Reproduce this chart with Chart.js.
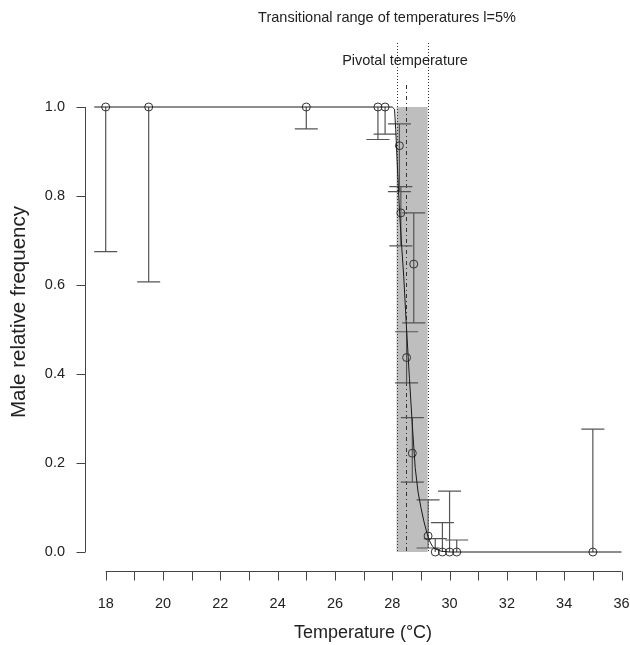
<!DOCTYPE html>
<html>
<head>
<meta charset="utf-8">
<script src="https://cdn.jsdelivr.net/npm/chart.js@4/dist/chart.umd.min.js"></script>
<style>
  html, body { margin: 0; padding: 0; background: #fff; }
  #wrap { width: 630px; height: 645px; }
</style>
</head>
<body>
<div id="wrap"><canvas id="tsdChart" width="630" height="645"></canvas></div>
<script>
// Observed incubation temperatures and male frequencies with their confidence limits
const obsTemp  = [18, 19.5, 25, 27.5, 27.75, 28.25, 28.3, 28.5, 28.7, 28.75, 29.25, 29.5, 29.75, 30, 30.25, 35];
const obsFreq  = [1, 1, 1, 1, 1, 0.913, 0.762, 0.437, 0.222, 0.647, 0.036, 0, 0, 0, 0, 0];
const obsLower = [0.675, 0.607, 0.951, 0.927, 0.939, 0.81, 0.688, 0.38, 0.157, 0.515, 0.009, 0, 0, 0, 0, 0];
const obsUpper = [1, 1, 1, 1, 1, 0.962, 0.821, 0.495, 0.302, 0.762, 0.117, 0.03, 0.066, 0.137, 0.027, 0.276];

// Fitted sex-ratio curve
const curveTemp = [17.6, 28.0, 28.08, 28.12, 28.17, 28.25, 28.33, 28.4, 28.5, 28.6, 28.7, 28.8, 28.9, 29.0, 29.1, 29.2, 29.3, 29.4, 29.5, 29.7, 30, 36];
const curveFreq = [1, 1, 0.995, 0.95, 0.88, 0.77, 0.686, 0.62, 0.5, 0.39, 0.285, 0.19, 0.135, 0.1, 0.07, 0.045, 0.025, 0.013, 0.007, 0.002, 0, 0];

// Pivotal temperature and transitional range (l = 5%)
const pivotTemp = 28.49;
const transRange = [28.15, 29.235];

const xTicks = [18, 19, 20, 21, 22, 23, 24, 25, 26, 27, 28, 29, 30, 31, 32, 33, 34, 35, 36];
const xTickLabels = ['18', '', '20', '', '22', '', '24', '', '26', '', '28', '', '30', '', '32', '', '34', '', '36'];
const yTicks = [0, 0.2, 0.4, 0.6, 0.8, 1.0];
const yTickLabels = ['0.0', '0.2', '0.4', '0.6', '0.8', '1.0'];

const FONT = '"Liberation Sans", Arial, Helvetica, sans-serif';

// Shaded range, reference lines and error bars, drawn under the points
const annotations = {
  id: 'annotations',
  beforeDatasetsDraw(chart) {
    const { ctx, scales: { x, y } } = chart;
    ctx.save();

    // transitional range box
    const x0 = x.getPixelForValue(transRange[0]);
    const x1 = x.getPixelForValue(transRange[1]);
    ctx.fillStyle = '#bebebe';
    ctx.fillRect(x0, y.getPixelForValue(1), x1 - x0, y.getPixelForValue(0) - y.getPixelForValue(1));

    // dotted limits of the range
    ctx.strokeStyle = '#333';
    ctx.lineWidth = 1;
    ctx.setLineDash([1, 2]);
    transRange.forEach(t => {
      const px = Math.round(x.getPixelForValue(t)) + 0.5;
      ctx.beginPath();
      ctx.moveTo(px, 43);
      ctx.lineTo(px, y.getPixelForValue(0));
      ctx.stroke();
    });

    // pivotal temperature, dot-dash
    ctx.setLineDash([4, 3, 1, 3]);
    const pp = Math.round(x.getPixelForValue(pivotTemp)) + 0.5;
    ctx.beginPath();
    ctx.moveTo(pp, 85);
    ctx.lineTo(pp, y.getPixelForValue(0));
    ctx.stroke();
    ctx.setLineDash([]);

    // error bars with flat caps
    ctx.strokeStyle = '#555';
    ctx.lineWidth = 1.2;
    const cap = 11.5;
    obsTemp.forEach((t, i) => {
      const px = x.getPixelForValue(t);
      const py = y.getPixelForValue(obsFreq[i]);
      [obsLower[i], obsUpper[i]].forEach(lim => {
        if (lim === obsFreq[i]) return;
        const ly = y.getPixelForValue(lim);
        ctx.beginPath();
        ctx.moveTo(px, py);
        ctx.lineTo(px, ly);
        ctx.moveTo(px - cap, ly);
        ctx.lineTo(px + cap, ly);
        ctx.stroke();
      });
    });
    ctx.restore();
  },

  // detached R-style axes and the text
  afterDraw(chart) {
    const { ctx, scales: { x, y } } = chart;
    ctx.save();
    ctx.strokeStyle = '#444';
    ctx.lineWidth = 1;
    ctx.fillStyle = '#222';

    const axisY = 571.5;
    ctx.beginPath();
    ctx.moveTo(x.getPixelForValue(xTicks[0]), axisY);
    ctx.lineTo(x.getPixelForValue(xTicks[xTicks.length - 1]), axisY);
    xTicks.forEach(t => {
      const px = Math.round(x.getPixelForValue(t)) + 0.5;
      ctx.moveTo(px, axisY);
      ctx.lineTo(px, axisY + 9);
    });
    ctx.stroke();
    ctx.font = '14.5px ' + FONT;
    ctx.textAlign = 'center';
    ctx.textBaseline = 'middle';
    xTicks.forEach((t, i) => {
      if (xTickLabels[i]) ctx.fillText(xTickLabels[i], x.getPixelForValue(t), 604);
    });

    const axisX = 85.5;
    ctx.beginPath();
    ctx.moveTo(axisX, y.getPixelForValue(yTicks[0]));
    ctx.lineTo(axisX, y.getPixelForValue(yTicks[yTicks.length - 1]));
    yTicks.forEach(v => {
      const py = Math.round(y.getPixelForValue(v)) + 0.5;
      ctx.moveTo(axisX, py);
      ctx.lineTo(axisX - 9, py);
    });
    ctx.stroke();
    ctx.textAlign = 'right';
    yTicks.forEach((v, i) => {
      ctx.fillText(yTickLabels[i], 65, y.getPixelForValue(v));
    });

    // axis titles
    ctx.font = '18px ' + FONT;
    ctx.textAlign = 'center';
    ctx.fillText('Temperature (°C)', 363, 633);
    ctx.save();
    ctx.translate(19, 312);
    ctx.rotate(-Math.PI / 2);
    ctx.font = '20.5px ' + FONT;
    ctx.fillText('Male relative frequency', 0, 0);
    ctx.restore();

    // labels for the range and the pivot
    ctx.font = '14.5px ' + FONT;
    ctx.fillText('Transitional range of temperatures l=5%', 387, 18);
    ctx.fillText('Pivotal temperature', 405, 61);
    ctx.restore();
  }
};

const ctx = document.getElementById('tsdChart').getContext('2d');
const chart = new Chart(ctx, {
  type: 'scatter',
  data: {
    datasets: [
      {
        label: 'Fitted',
        data: curveTemp.map((t, i) => ({ x: t, y: curveFreq[i] })),
        showLine: true,
        borderColor: '#1a1a1a',
        borderWidth: 1,
        pointRadius: 0,
        tension: 0,
        clip: false
      },
      {
        label: 'Observed',
        data: obsTemp.map((t, i) => ({ x: t, y: obsFreq[i] })),
        showLine: false,
        pointStyle: 'circle',
        pointRadius: 4,
        borderColor: '#333',
        borderWidth: 1,
        backgroundColor: 'rgba(0,0,0,0)',
        clip: false
      }
    ]
  },
  options: {
    responsive: false,
    animation: false,
    layout: { padding: { left: 105.7, right: 8.5, top: 107, bottom: 93 } },
    scales: {
      x: { type: 'linear', min: 18, max: 36, display: false },
      y: { min: 0, max: 1, display: false }
    },
    plugins: {
      legend: { display: false },
      tooltip: { enabled: false }
    }
  },
  plugins: [annotations]
});
</script>
</body>
</html>
